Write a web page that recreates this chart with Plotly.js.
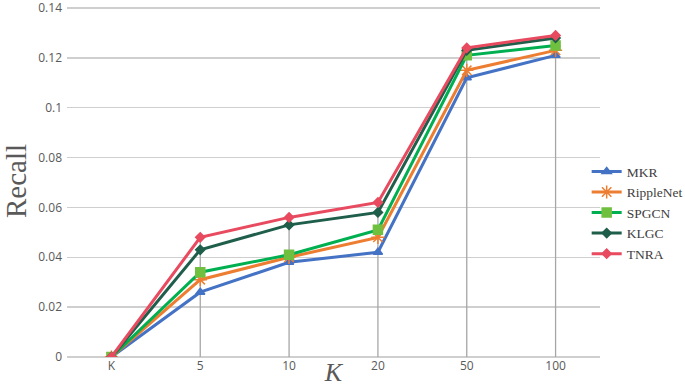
<!DOCTYPE html>
<html>
<head>
<meta charset="utf-8">
<script src="https://cdn.plot.ly/plotly-3.0.1.min.js"></script>
<style>html,body{margin:0;padding:0;background:#fff}#chart{width:685px;height:387px}</style>
</head>
<body>
<div id="chart"></div>
<script>
var categories = ["K", "5", "10", "20", "50", "100"];
var seriesNames = ["MKR", "RippleNet", "SPGCN", "KLGC", "TNRA"];
var mkr = [0, 0.026, 0.038, 0.042, 0.112, 0.121];
var rippleNet = [0, 0.031, 0.040, 0.048, 0.115, 0.123];
var spgcn = [0, 0.034, 0.041, 0.051, 0.121, 0.125];
var klgc = [0, 0.043, 0.053, 0.058, 0.123, 0.128];
var tnra = [0, 0.048, 0.056, 0.062, 0.124, 0.129];
var yTicks = [0, 0.02, 0.04, 0.06, 0.08, 0.1, 0.12, 0.14];

var allSeries = [mkr, rippleNet, spgcn, klgc, tnra];
var lineColors = ["#4472C4", "#ED7D31", "#00B050", "#1E5E4A", "#E84A5F"];
var markerColors = ["#4472C4", "#ED7D31", "#70C040", "#1E5E4A", "#E84A5F"];
var symbols = ["triangle-up", "asterisk-open", "square", "diamond", "diamond"];
var sizes = [8, 11, 9, 7, 7];

// drop lines from highest point at each category down to axis
var dx = [], dy = [];
categories.forEach(function (c, i) {
  var m = Math.max.apply(null, allSeries.map(function (s) { return s[i]; }));
  dx.push(c, c, null);
  dy.push(m, 0, null);
});

var traces = [{
  x: dx, y: dy, mode: "lines", showlegend: false, hoverinfo: "skip",
  line: {color: "#A6A6A6", width: 1.3}
}];
allSeries.forEach(function (s, k) {
  traces.push({
    x: categories, y: s, name: seriesNames[k], mode: "lines+markers",
    line: {color: lineColors[k], width: 3},
    marker: {symbol: symbols[k], size: sizes[k], color: markerColors[k],
             line: {color: markerColors[k], width: 1.5}}
  });
});

var layout = {
  width: 685, height: 387,
  margin: {l: 67, r: 84.5, t: 5, b: 30, autoexpand: false},
  paper_bgcolor: "#fff", plot_bgcolor: "#fff",
  showlegend: true,
  xaxis: {
    type: "category", range: [-0.5, 5.5], showgrid: false, zeroline: false,
    showline: false, ticks: "", tickfont: {family: "Open Sans, sans-serif", size: 12, color: "#595959"},
    title: {text: "<i>K</i>", font: {family: "Liberation Serif, serif", size: 26, color: "#595959"}, standoff: 0}
  },
  yaxis: {
    range: [0, 0.1412], tickvals: yTicks, showgrid: true, gridcolor: "#CFCFCF", gridwidth: 1.3,
    zeroline: true, zerolinecolor: "#CFCFCF", zerolinewidth: 1.3, showline: false, ticks: "",
    tickfont: {family: "Open Sans, sans-serif", size: 12, color: "#595959"}, ticklabelstandoff: 4,
    ticklabeloverflow: "allow",
    title: {text: "Recall", font: {family: "Liberation Serif, serif", size: 29, color: "#595959"}, standoff: 6}
  },
  legend: {
    x: 0.975, xanchor: "left", y: 0.41, yanchor: "middle",
    font: {family: "Liberation Serif, serif", size: 13.5, color: "#404040"},
    bgcolor: "rgba(0,0,0,0)", tracegroupgap: 0, itemwidth: 30
  }
};
Plotly.newPlot("chart", traces, layout, {staticPlot: true});
</script>
</body>
</html>
